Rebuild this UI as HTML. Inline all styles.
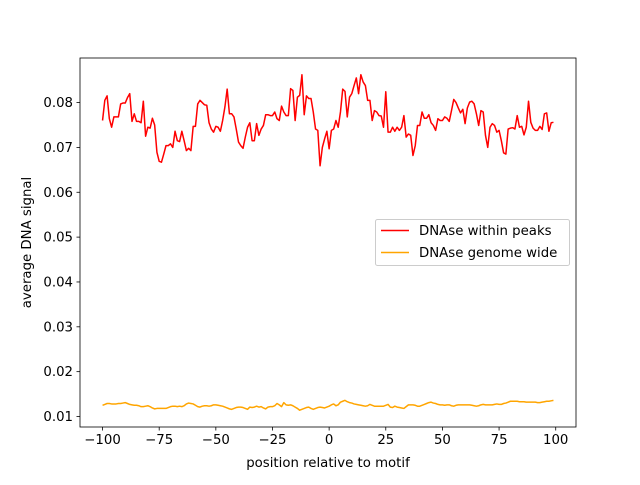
<!DOCTYPE html>
<html><head><meta charset="utf-8"><style>
body{margin:0;background:#fff}
svg text{font-family:"DejaVu Sans","Liberation Sans",sans-serif;font-size:13.3px;fill:#000}
</style></head><body>
<svg id="chart" width="640" height="480" xmlns="http://www.w3.org/2000/svg"></svg>
<script>
const xStart = -100;
const xTicks = [-100, -75, -50, -25, 0, 25, 50, 75, 100];
const yTicks = [0.01, 0.02, 0.03, 0.04, 0.05, 0.06, 0.07, 0.08];
const peaksValues = [.0760,.0805,.0815,.0764,.0745,.0768,.0768,.0768,.0797,.0799,.0799,.0811,.0820,.0758,.0775,.0758,.0758,.0755,.0803,.0725,.0745,.0743,.0765,.0750,.0689,.0669,.0667,.0685,.0704,.0704,.0708,.0700,.0736,.0715,.0713,.0736,.0715,.0693,.0698,.0693,.0747,.0747,.0797,.0805,.0800,.0795,.0794,.0755,.0741,.0734,.0747,.0745,.0736,.0760,.0790,.0830,.0775,.0775,.0768,.0741,.0712,.0704,.0698,.0723,.0745,.0755,.0715,.0715,
.0753,.0727,.0741,.0749,.0773,.0773,.0771,.0771,.0779,.0764,.0760,.0792,.0779,.0771,.0771,.0831,.0827,.0760,.0812,.0816,.0862,.0773,.0815,.0809,.0809,.0779,.0741,.0738,.0659,.0700,.0719,.0736,.0697,.0738,.0741,.0760,.0745,.0779,.0830,.0825,.0768,.0812,.0820,.0838,.0855,.0820,.0862,.0846,.0838,.0805,.0805,.0760,.0782,.0779,.0771,.0770,.0745,.0824,.0734,.0734,.0745,.0736,.0745,.0738,.0745,.0771,
.0723,.0730,.0727,.0682,.0704,.0749,.0749,.0779,.0765,.0765,.0773,.0755,.0749,.0738,.0764,.0760,.0760,.0768,.0765,.0758,.0782,.0807,.0800,.0788,.0777,.0785,.0753,.0788,.0801,.0803,.0797,.0775,.0749,.0782,.0779,.0727,.0700,.0745,.0753,.0749,.0734,.0738,.0715,.0688,.0685,.0741,.0743,.0744,.0741,.0771,.0745,.0747,.0728,.0745,.0803,.0756,.0743,.0738,.0738,.0747,.0740,.0775,.0777,.0736,.0755,.0756];
const genomeValues = [.0125,.0127,.0129,.0129,.0128,.0128,.0128,.0129,.0129,.0130,.0131,.0129,.0127,.0126,.0125,.0125,.0124,.0122,.0122,.0123,.0124,.0122,.0119,.0117,.0118,.0118,.0118,.0118,.0118,.0120,.0122,.0123,.0123,.0122,.0123,.0122,.0124,.0128,.0130,.0129,.0128,.0125,.0122,.0121,.0123,.0124,.0124,.0123,.0124,.0126,.0126,.0125,.0124,.0123,.0121,.0119,.0117,.0116,.0118,.0120,.0121,.0121,.0120,.0118,.0116,.0121,.0120,.0121,.0123,.0121,.0122,.0119,.0117,.0121,.0122,.0122,.0124,.0129,.0126,.0122,.0131,.0126,.0125,.0126,.0124,.0121,.0118,.0114,.0116,.0118,.0120,.0121,.0118,.0116,.0118,.0120,.0121,.0120,.0119,.0121,.0123,.0126,.0128,.0124,.0126,.0132,.0134,.0136,.0133,.0131,.0130,.0128,.0127,.0126,.0125,.0124,.0123,.0124,.0127,.0125,.0123,.0123,.0123,.0123,.0123,.0125,.0127,.0121,.0120,.0123,.0121,.0120,.0119,.0118,.0122,.0126,.0126,.0126,.0125,.0123,.0123,.0125,.0127,.0129,.0131,.0132,.0130,.0129,.0127,.0126,.0126,.0125,.0126,.0126,.0124,.0123,.0125,.0126,.0126,.0126,.0126,.0126,.0126,.0125,.0124,.0123,.0124,.0126,.0127,.0126,.0126,.0126,.0126,.0127,.0128,.0127,.0127,.0129,.0130,.0132,.0134,.0134,.0134,.0134,.0133,.0133,.0133,.0132,.0132,.0132,.0132,.0132,.0131,.0131,.0132,.0133,.0134,.0134,.0135,.0136];
const seriesNames = ["DNAse within peaks", "DNAse genome wide"];

const NS = "http://www.w3.org/2000/svg";
const svg = document.getElementById("chart");
const L = 80, R = 576, T = 58, B = 427;
const n = Math.max(peaksValues.length, genomeValues.length);
const xmin0 = xStart, xmax0 = xStart + n - 1, xm = (xmax0 - xmin0) * 0.05;
const all = peaksValues.concat(genomeValues);
const ymin0 = Math.min(...all), ymax0 = Math.max(...all), ym = (ymax0 - ymin0) * 0.05;
const X = v => L + (v - (xmin0 - xm)) / ((xmax0 + xm) - (xmin0 - xm)) * (R - L);
const Y = v => B - (v - (ymin0 - ym)) / ((ymax0 + ym) - (ymin0 - ym)) * (B - T);
function mk(tag, attrs, parent) {
  const e = document.createElementNS(NS, tag);
  for (const k in attrs) e.setAttribute(k, attrs[k]);
  (parent || svg).appendChild(e);
  return e;
}
function line(vals, color, name) {
  const d = vals.map((v, i) => (i ? "L" : "M") + X(xStart + i).toFixed(2) + "," + Y(v).toFixed(2)).join("");
  const p = mk("path", {d: d, fill: "none", stroke: color, "stroke-width": 1.5, "stroke-linejoin": "round"});
  
  
}
line(genomeValues, "#ffa500", "genome-wide-line");
line(peaksValues, "#ff0000", "within-peaks-line");

const frame = mk("rect", {x: L, y: T, width: R - L, height: B - T, fill: "none", stroke: "#000", "stroke-width": 0.8});



xTicks.forEach(t => {
  const x = X(t);
  const tk = mk("line", {x1: x, x2: x, y1: B, y2: B + 3.5, stroke: "#000", "stroke-width": 0.8});
  
  
  const tx = mk("text", {x: x, y: B + 17, "text-anchor": "middle"});
  tx.textContent = t === 0 ? "0" : String(t).replace("-", "\u2212");
  
  
});
yTicks.forEach(t => {
  const y = Y(t);
  const tk = mk("line", {x1: L - 3.5, x2: L, y1: y, y2: y, stroke: "#000", "stroke-width": 0.8});
  
  
  const tx = mk("text", {x: L - 7, y: y + 4.5, "text-anchor": "end"});
  tx.textContent = t.toFixed(2);
  
  
});
const xt = mk("text", {x: (L + R) / 2, y: 467, "text-anchor": "middle"});
xt.textContent = "position relative to motif";


const yt = mk("text", {x: 0, y: 0, "text-anchor": "middle", transform: "translate(31," + ((T + B) / 2) + ") rotate(-90)"});
yt.textContent = "average DNA signal";



const lg = mk("g", {});


mk("rect", {x: 375.5, y: 219.5, width: 194, height: 46, rx: 2, fill: "#fff", "fill-opacity": 0.8, stroke: "#ccc"}, lg);
const colors = ["#ff0000", "#ffa500"];
seriesNames.forEach((s, i) => {
  const y = 230.5 + i * 22;
  const ln = mk("line", {x1: 381, x2: 409, y1: y, y2: y, stroke: colors[i], "stroke-width": 1.5}, lg);
  
  
  const tx = mk("text", {x: 419, y: y + 4.5}, lg);
  tx.textContent = s;
  
  
});
</script>
</body></html>
